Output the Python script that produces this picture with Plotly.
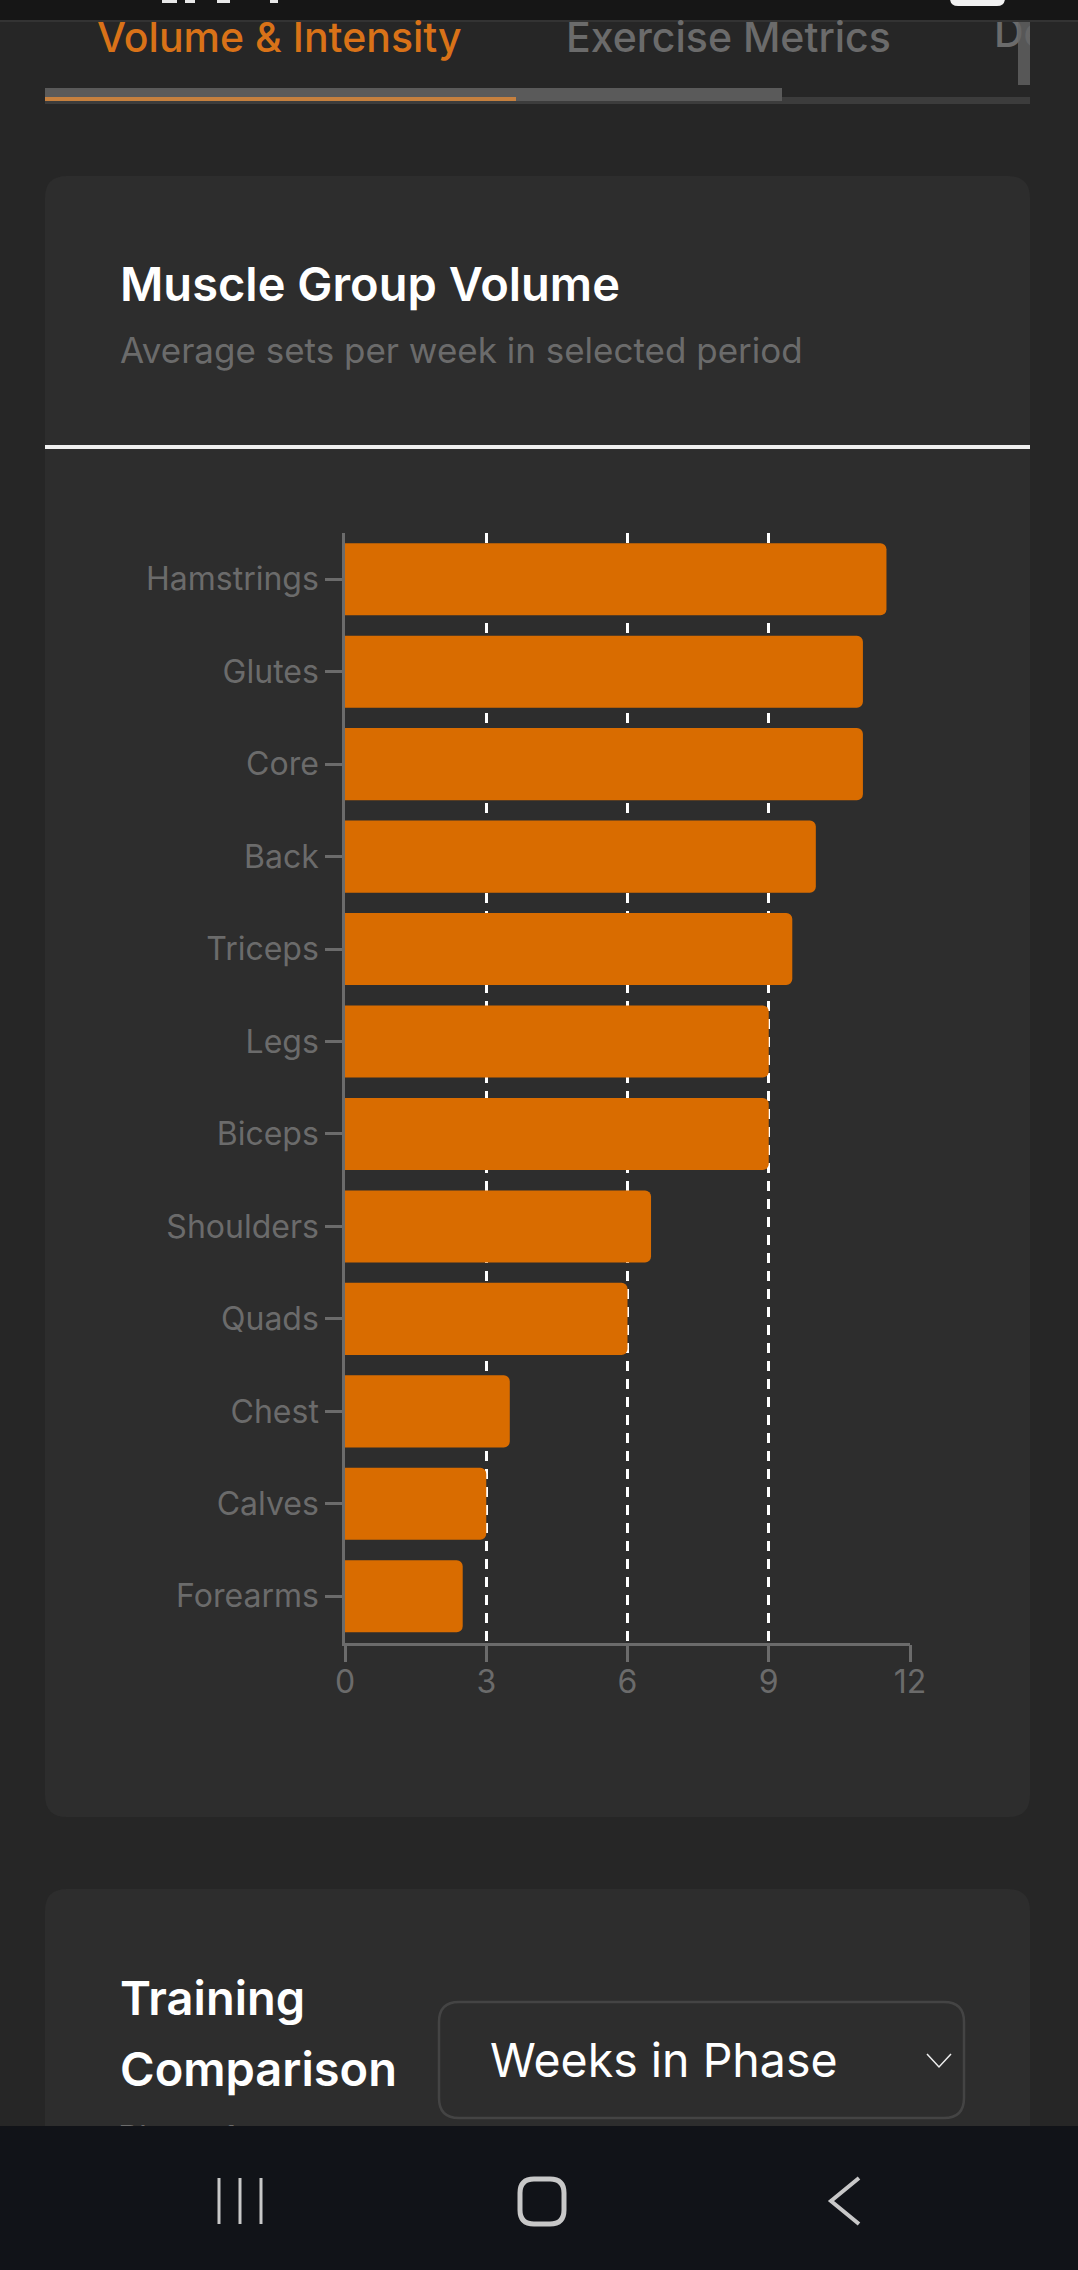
import plotly.graph_objects as go

muscle_groups = ['Hamstrings', 'Glutes', 'Core', 'Back', 'Triceps', 'Legs', 'Biceps',
                 'Shoulders', 'Quads', 'Chest', 'Calves', 'Forearms']
avg_sets = [11.5, 11, 11, 10, 9.5, 9, 9, 6.5, 6, 3.5, 3, 2.5]
x_ticks = [0, 3, 6, 9, 12]

WIDTH = 1078
HEIGHT = 2270
FONT = 'Inter'
PAGE_BG = '#262626'
CARD_BG = '#2d2d2d'
NAV_BG = '#111318'
ORANGE = '#d96c00'
GREY_TEXT = '#6b6b6b'


# Rounded rectangle as an svg path, in screen pixels
def round_rect(x0, y0, x1, y1, r):
    return (f'M{x0+r},{y0} L{x1-r},{y0} Q{x1},{y0} {x1},{y0+r} L{x1},{y1-r} Q{x1},{y1} {x1-r},{y1} '
            f'L{x0+r},{y1} Q{x0},{y1} {x0},{y1-r} L{x0},{y0+r} Q{x0},{y0} {x0+r},{y0} Z')


def rect(x0, y0, x1, y1, color, layer='below'):
    return dict(type='rect', xref='x', yref='y', x0=x0, y0=y0, x1=x1, y1=y1,
                fillcolor=color, line_width=0, layer=layer)


def path(d, fill=None, line=None, width=0, layer='below'):
    return dict(type='path', xref='x', yref='y', path=d, fillcolor=fill or 'rgba(0,0,0,0)',
                line=dict(color=line or 'rgba(0,0,0,0)', width=width), layer=layer)


def label(text, x, y, size, color, weight=400, anchor='left'):
    return dict(text=text, xref='x', yref='y', x=x, y=y, xanchor=anchor, yanchor='middle',
                showarrow=False, font=dict(family=FONT, size=size, color=color, weight=weight))


fig = go.Figure()

# Screen layer in pixels, the chart sits on the second axes
# these two get cut off by the shapes on top, so they are traces and not annotations
fig.add_trace(go.Scatter(x=[118], y=[2141], mode='text', text=['Phase 1'], textposition='middle right',
                         textfont=dict(family=FONT, size=33, color=GREY_TEXT),
                         hoverinfo='skip', showlegend=False))
fig.add_trace(go.Scatter(x=[994], y=[37], mode='text', text=['De'], textposition='middle right',
                         textfont=dict(family=FONT, size=41, color=GREY_TEXT, weight=500),
                         hoverinfo='skip', showlegend=False))

fig.add_trace(go.Bar(x=avg_sets, y=muscle_groups, orientation='h', xaxis='x2', yaxis='y2',
                     marker=dict(color=ORANGE, line_width=0), showlegend=False))

shapes = [
    rect(0, 0, WIDTH, HEIGHT, PAGE_BG),
    path(round_rect(45, 176, 1030, 1817, 22), fill=CARD_BG),
    path(round_rect(45, 1889, 1030, 2200, 22), fill=CARD_BG),
    rect(45, 445, 1030, 449, '#f0f0f0'),
    # tab scroll bars
    rect(45, 97, 1030, 104, '#3c3c3c'),
    rect(45, 88, 782, 101, '#5a5a5a'),
    rect(45, 97, 516, 101, '#c5803f'),
    # dropdown
    path(round_rect(439, 2002, 964, 2118, 20), line='#444444', width=2.5),
    path('M927,2054 L939,2067 L951,2054', line='#eeeeee', width=1.5),
    # status bar
    rect(0, 0, WIDTH, 20, '#161616', layer='above'),
    rect(0, 20, WIDTH, 22, '#333333', layer='above'),
    path(round_rect(950, -10, 1005, 6, 8), fill='#f2f2f2', layer='above'),
    rect(162, 0, 177, 3, '#e8e8e8', layer='above'),
    rect(185, 0, 195, 3, '#e8e8e8', layer='above'),
    rect(217, 0, 230, 3, '#e8e8e8', layer='above'),
    rect(270, 0, 278, 3, '#e8e8e8', layer='above'),
    # cut off right edge of the tabs
    rect(1030, 22, WIDTH, 88, PAGE_BG, layer='above'),
    rect(1018, 22, 1030, 85, 'rgba(100,100,100,0.8)', layer='above'),
    # nav bar
    rect(0, 2126, WIDTH, HEIGHT, NAV_BG, layer='above'),
    path('M219,2178 L219,2224 M240,2178 L240,2224 M261,2178 L261,2224', line='#c8c8c8', width=3, layer='above'),
    path(round_rect(520, 2179, 564, 2224, 14), line='#c8c8c8', width=5, layer='above'),
    path('M859,2178 L831,2201 L859,2224', line='#c8c8c8', width=4, layer='above'),
]

annotations = [
    label('Volume &amp; Intensity', 95, 37, 41, '#d97218', 500),
    label('Exercise Metrics', 564, 37, 41, GREY_TEXT, 500),
    label('Muscle Group Volume', 118, 283, 47, '#ffffff', 600),
    label('Average sets per week in selected period', 118, 350, 35, GREY_TEXT),
    label('Training', 118, 1997, 47, '#ffffff', 600),
    label('Comparison', 118, 2068, 47, '#ffffff', 600),
    label('Weeks in Phase', 488, 2060, 46.5, '#ffffff'),
]

fig.update_layout(
    width=WIDTH, height=HEIGHT,
    margin=dict(l=0, r=0, t=0, b=0),
    paper_bgcolor=PAGE_BG, plot_bgcolor='rgba(0,0,0,0)',
    bargap=0.22, barcornerradius=6,
    shapes=shapes, annotations=annotations,
    xaxis=dict(domain=[0, 1], range=[0, WIDTH], visible=False, fixedrange=True, automargin=False),
    yaxis=dict(domain=[0, 1], range=[HEIGHT, 0], visible=False, fixedrange=True, automargin=False),
    xaxis2=dict(domain=[345 / WIDTH, 910 / WIDTH], anchor='y2', range=[0, 12], automargin=False,
                tickvals=x_ticks, ticks='outside', ticklen=17, tickwidth=2.5, tickcolor=GREY_TEXT,
                showline=True, linecolor=GREY_TEXT, linewidth=2.5, layer='below traces',
                showgrid=True, gridcolor='#ffffff', gridwidth=2.5, griddash='10px,8px',
                zeroline=False, ticklabelstandoff=-8,
                tickfont=dict(family=FONT, size=32, color=GREY_TEXT)),
    yaxis2=dict(domain=[1 - 1642.5 / HEIGHT, 1 - 533 / HEIGHT], anchor='x2', autorange='reversed',
                type='category', ticks='outside', ticklen=17, tickwidth=2.5, tickcolor=GREY_TEXT,
                showline=True, linecolor=GREY_TEXT, linewidth=2.5, layer='below traces', automargin=False,
                showgrid=False, zeroline=False, tickfont=dict(family=FONT, size=32, color=GREY_TEXT)),
)

fig.write_html("out.html", config={'displayModeBar': False},
               post_script="document.body.style.margin='0';document.body.style.background='#262626';")
